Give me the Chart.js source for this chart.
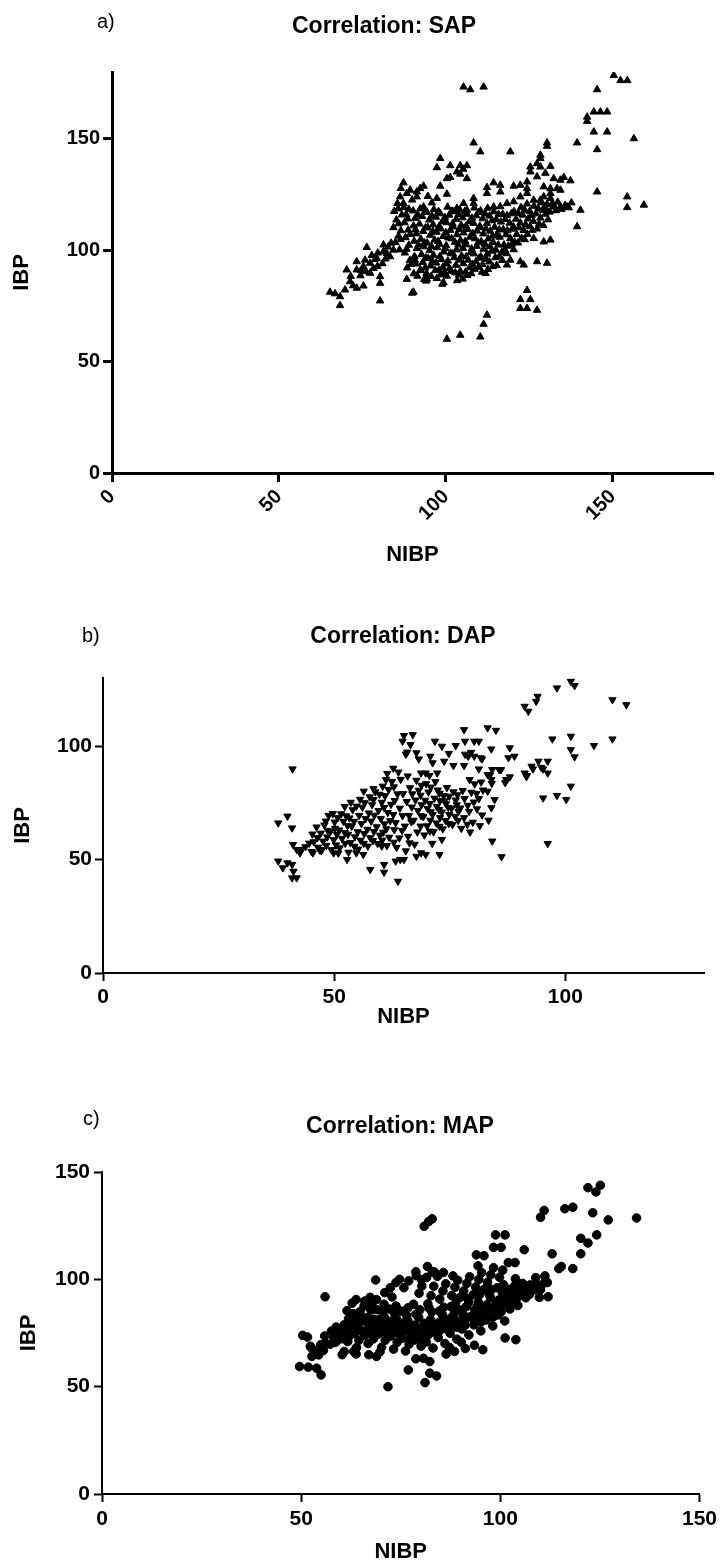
<!DOCTYPE html>
<html>
<head>
<meta charset="utf-8">
<script src="https://cdn.jsdelivr.net/npm/chart.js@4.4.1/dist/chart.umd.min.js"></script>
<style>
  body { margin: 0; background: #fff; }
  #page { position: relative; width: 722px; height: 1568px; overflow: hidden; font-family: 'Liberation Sans', Arial, sans-serif; color: #000; }
  canvas { position: absolute; left: 0; }
  .panel { position: absolute; font-size: 20px; line-height: 24px; }
  .title { position: absolute; font-size: 23px; font-weight: bold; line-height: 28px; transform: translateX(-50%); white-space: nowrap; }
</style>
</head>
<body>
<div id="page">
  <canvas id="sapChart" width="722" height="580" style="top:0px"></canvas>
  <canvas id="dapChart" width="722" height="460" style="top:580px"></canvas>
  <canvas id="mapChart" width="722" height="528" style="top:1040px"></canvas>

  <div class="panel" style="left:97px;top:9px">a)</div>
  <div class="title" style="left:384px;top:11px">Correlation: SAP</div>
  <div class="panel" style="left:82px;top:623px">b)</div>
  <div class="title" style="left:403px;top:621px">Correlation: DAP</div>
  <div class="panel" style="left:83px;top:1106px">c)</div>
  <div class="title" style="left:400px;top:1111px">Correlation: MAP</div>
</div>
<script>
// tick labels for each panel
const sapXTicks = [0, 50, 100, 150];
const sapYTicks = [0, 50, 100, 150];
const dapXTicks = [0, 50, 100];
const dapYTicks = [0, 50, 100];
const mapXTicks = [0, 50, 100, 150];
const mapYTicks = [0, 50, 100, 150];

// [NIBP, IBP] pairs
const sapPoints = [
  [105.3,173.3],[107.3,172.1],[111.3,173.3],
  [150.3,178.5],[152.3,176.2],[154.3,176.2],[145.3,172.1],
  [142.3,159.8],[142.3,157.9],[144.3,162.1],[146.3,162.1],[148.3,162.1],
  [144.3,153.1],[148.3,153.1],[145.3,145.2],[156.3,150.1],[139.3,148.2],
  [108.3,148.2],[110.3,144.2],[119.3,144.2],
  [130.3,148.2],[130.3,146.7],[128.3,142.7],[128.3,141.2],[127.3,138.9],[128.3,137.4],[125.3,137.4],[125.3,135.2],[131.3,137.7],[127.3,133.0],[129.8,134.6],
  [98.3,141.2],[97.3,137.1],[101.3,138.0],[104.3,138.0],[106.3,138.0],[103.3,135.2],[104.3,134.2],[106.3,132.2],[100.3,132.2],[101.3,132.7],[105.2,136.4],
  [132.3,132.2],[134.3,131.5],[135.3,132.7],[137.3,131.2],
  [145.3,126.2],[154.3,124.0],[154.3,119.2],[159.3,120.3],
  [140.3,118.0],[139.3,110.6],
  [133.3,127.7],[134.3,127.0],[131.3,127.7],[129.3,128.5],[131.3,125.5],[129.3,124.0],[131.3,123.3],[132.3,119.5],[134.3,119.5],[136.3,119.5],[130.3,117.3],
  [87.3,130.3],[89.3,127.0],[91.3,126.2],[92.3,127.7],[93.3,128.8],[91.3,124.0],[88.3,125.5],[86.3,124.0],[87.3,121.0],[93.3,119.5],[86.5,127.8],[89.9,122.6],[94.6,124.2],[95.8,121.3],
  [98.3,128.8],[100.3,125.2],[97.3,123.3],
  [112.3,128.2],[114.3,130.3],[116.3,129.2],[116.3,126.2],[120.3,128.8],[122.3,129.2],[124.3,130.7],[124.3,127.7],[112.3,125.5],
  [105.3,121.0],[108.3,123.3],[108.3,121.0],[106.3,118.0],[103.3,118.8],
  [114.3,119.5],[118.3,121.0],[120.3,121.8],[122.3,124.0],[124.3,125.5],[126.3,122.5],[128.3,122.5],
  [126.3,105.3],[129.3,103.8],[131.3,104.6],[127.3,94.9],[130.3,94.2],[119.3,95.6],[118.3,93.4],[122.3,94.9],[123.3,93.4],
  [124.3,82.0],[122.3,77.9],[125.3,77.9],[122.3,73.9],[124.3,73.9],[127.3,73.1],
  [112.3,70.9],[111.3,66.8],[110.3,61.1],[104.3,61.9],[100.3,60.1],
  [88.3,87.0],[90.3,81.2],[92.3,90.9],[94.3,87.1],[99.3,85.5],[89.9,80.8],[94.1,86.2],[98.9,84.8],[80.3,77.3],
  [65.3,81.2],[66.8,80.5],[68.3,79.2],[68.3,75.2],[69.8,82.2],[71.3,85.9],[70.3,91.2],[72.2,84.1],[73.3,83.0],[73.3,91.2],
  [73.3,94.9],[74.4,88.6],[75.3,84.0],[75.3,92.7],[76.3,101.3],[76.1,90.4],[77.3,94.2],[77.3,89.7],[78.3,91.9],[78.8,95.9],
  [79.3,96.4],[79.6,98.8],[80.3,88.2],[80.3,85.2],[81.3,102.4],[81.3,99.4],[81.9,96.1],[82.3,98.6],[82.7,101.5],[83.3,97.1],
  [83.6,103.2],[84.3,100.1],[81.0,94.0],[79.5,92.8],[77.8,97.7],[75.8,95.6],[71.5,88.3],[74.6,91.0],
  [84.5,117.5],[85.2,113.6],[84.3,110.2],[85.8,106.4],[84.9,103.5],[86.1,100.2],[86.5,108.8],[86.8,115.9],[85.5,121.0],
  [87.4,119.2],[88.1,116.0],[87.6,112.4],[88.7,109.1],[87.9,105.7],[88.9,102.3],[87.7,98.8],[89.2,95.5],[88.4,92.1],
  [90.2,117.7],[90.8,114.3],[90.3,111.0],[91.1,107.4],[90.5,104.1],[91.3,100.8],[90.6,97.2],[91.0,93.9],[90.4,89.5],
  [92.3,118.6],[92.9,115.2],[92.1,111.8],[93.2,108.5],[92.5,105.0],[93.4,101.6],[92.7,98.1],[93.1,94.6],[92.4,91.3],[93.5,86.9],
  [94.3,117.1],[95.0,113.6],[94.6,110.2],[95.3,106.8],[94.4,103.3],[95.1,99.9],[94.7,96.4],[95.4,93.0],[94.2,89.6],
  [96.4,118.3],[97.0,114.9],[96.2,111.5],[97.2,108.1],[96.6,104.6],[97.4,101.2],[96.3,97.8],[97.1,94.3],[96.8,90.9],[97.3,87.4],
  [98.3,116.4],[99.0,113.0],[98.5,109.6],[99.2,106.2],[98.1,102.7],[99.4,99.3],[98.7,95.8],[99.1,92.4],[98.4,89.0],
  [100.5,119.4],[101.0,115.8],[100.2,112.4],[101.3,109.0],[100.7,105.6],[100.1,102.1],[101.4,98.7],[100.6,95.2],[101.1,91.8],[100.3,88.4],
  [102.4,117.3],[103.1,113.9],[102.2,110.5],[103.3,107.0],[102.7,103.6],[103.2,100.2],[102.5,96.7],[103.0,93.3],[102.8,89.9],[103.4,86.4],
  [104.2,118.1],[105.0,114.6],[104.6,111.2],[105.3,107.8],[104.4,104.4],[105.1,100.9],[104.7,97.5],[105.2,94.0],[104.3,90.6],[105.0,87.1],
  [106.3,116.2],[107.0,112.8],[106.5,109.4],[107.2,105.9],[106.1,102.5],[107.4,99.0],[106.7,95.6],[107.1,92.2],[106.4,88.7],
  [108.5,119.0],[109.1,115.5],[108.3,112.1],[109.3,108.7],[108.7,105.2],[109.2,101.8],[108.4,98.4],[109.0,94.9],[108.6,91.5],
  [110.4,117.7],[111.0,114.2],[110.2,110.8],[111.2,107.4],[110.6,103.9],[111.3,100.5],[110.5,97.1],[111.0,93.6],[110.8,90.2],
  [112.5,118.9],[113.1,115.4],[112.3,112.0],[113.3,108.6],[112.7,105.1],[113.2,101.7],[112.4,98.3],[113.0,94.8],[112.6,91.4],
  [114.4,117.3],[115.1,113.8],[114.6,110.4],[115.3,107.0],[114.2,103.5],[115.0,100.1],[114.8,96.7],[115.2,93.2],
  [116.3,119.6],[117.0,116.2],[116.5,112.7],[117.2,109.3],[116.1,105.9],[117.4,102.4],[116.7,99.0],[116.9,95.5],
  [118.3,115.6],[119.1,112.2],[118.4,108.8],[119.3,105.3],[118.7,101.9],[118.2,98.5],
  [120.4,117.4],[121.0,114.0],[120.2,110.6],[121.2,107.1],[120.6,103.7],[120.3,100.3],
  [122.5,119.2],[123.0,115.8],[122.3,112.3],[123.3,108.9],[122.7,105.4],
  [124.3,120.8],[125.1,117.5],[124.6,114.1],[125.2,110.7],[124.4,107.2],
  [126.4,119.8],[127.0,116.4],[126.2,113.0],[127.3,109.6],
  [128.5,121.3],[129.1,117.9],[128.3,114.5],[129.2,111.1],
  [130.3,120.6],[131.1,117.2],[130.6,113.7],
  [132.4,119.9],[133.5,121.6],[134.6,118.4],[135.7,120.2],[136.8,119.1],[137.6,121.3],
  [85.9,111.9],[86.4,104.9],[85.7,118.6],[88.6,114.1],[89.3,107.2],[88.2,100.5],[89.6,93.7],[88.9,118.4],
  [91.6,115.9],[90.9,109.2],[91.8,102.4],[90.7,95.6],[91.5,88.4],
  [93.7,117.0],[93.9,110.1],[93.6,103.3],[94.0,96.5],[93.8,92.1],
  [95.8,115.4],[96.1,108.5],[95.7,101.7],[96.0,95.0],[95.6,88.3],
  [97.8,117.4],[98.0,110.7],[97.7,104.0],[98.2,97.2],[97.9,91.0],
  [99.7,114.7],[100.0,107.9],[99.8,100.8],[100.1,93.9],[99.6,90.1],
  [101.8,117.6],[102.0,111.9],[101.7,105.2],[102.1,98.4],[101.6,90.6],
  [103.8,116.0],[104.0,109.3],[103.7,102.4],[104.1,95.6],[103.9,88.9],
  [105.7,117.5],[106.0,110.8],[105.8,104.0],[106.1,97.1],[105.9,90.2],
  [107.8,114.4],[108.0,107.6],[107.7,100.6],[108.0,93.7],[107.6,89.5],
  [109.8,117.0],[110.0,110.2],[109.7,103.4],[110.0,96.5],[109.8,92.4],
  [111.8,116.3],[112.0,109.6],[111.7,102.8],[112.0,96.0],[111.9,89.6],
  [113.8,113.3],[114.0,106.4],[113.7,99.6],[114.0,92.7],
  [115.8,116.1],[116.0,109.2],[115.7,102.4],[116.0,97.1],
  [117.8,113.9],[118.0,107.0],[117.6,100.3],[119.6,116.4],[119.9,109.5],[119.7,102.7],
  [121.7,116.6],[121.9,110.1],[121.6,103.3],[123.6,118.0],[123.9,111.4],[123.6,104.8],
  [125.7,115.7],[125.9,109.0],[127.7,118.6],[127.9,111.8],[129.8,116.2],[129.6,119.6],[131.8,121.0],[132.9,117.8]
];

const dapPoints = [
  [101.2,128.5],[102.0,126.6],[98.2,125.6],[94.0,121.9],[93.7,119.7],[91.2,117.5],[92.0,115.3],[110.2,120.4],[113.2,118.2],
  [110.2,103.1],[106.2,100.2],[101.2,104.3],[101.2,98.4],[102.0,95.2],[97.2,103.1],[94.2,93.3],[92.7,91.1],[91.2,88.1],[91.7,87.0],
  [95.2,89.9],[96.2,93.3],[96.2,88.1],[101.2,82.3],[95.2,77.1],[98.2,78.2],[100.2,76.4],[96.2,57.0],[86.2,51.2],[84.2,58.1],
  [88.0,99.2],[89.0,95.5],[87.7,94.8],[87.2,85.2],[87.0,83.8],[88.0,86.4],
  [78.1,107.2],[83.2,108.0],[85.0,106.9],[80.3,102.1],[81.3,102.1],[78.3,102.1],[84.0,98.7],[79.0,95.5],[80.3,95.5],[81.7,94.8],
  [81.3,89.9],[83.2,87.4],[84.2,89.6],[85.7,89.6],[84.0,85.2],[84.7,76.4],
  [65.1,104.6],[64.8,102.1],[67.0,105.0],[71.8,102.1],[76.3,100.2],[66.5,100.6],[70.8,95.5],[67.8,97.0],[68.3,94.3],[65.8,97.3],
  [73.3,99.9],[74.8,96.7],[75.8,91.4],[73.8,93.3],[71.3,92.6],[68.8,88.1],[69.8,88.1],[72.3,88.1],[78.1,91.4],[79.3,85.2],
  [65.5,96.4],[78.3,96.4],[79.6,97.2],[82.0,94.3],[86.1,89.6],[91.6,86.5],[93.0,89.9],[94.8,90.6],
  [45.4,52.9],[47.4,54.4],[49.9,52.9],[52.8,50.0],[54.8,52.9],[56.3,52.2],[57.8,45.6],[60.8,44.4],[60.8,47.8],[63.3,49.3],
  [63.8,40.4],[64.3,50.0],[65.1,50.0],[67.8,51.4],[68.8,52.9],[69.8,52.2],[72.8,52.2],[73.3,58.8],[66.3,57.3],[60.3,55.9],
  [37.9,66.1],[39.9,69.1],[40.9,63.9],[41.0,89.9],[37.9,49.3],[38.9,46.3],[39.9,48.5],[40.9,47.8],[41.2,44.8],[41.9,41.9],
  [40.9,41.9],[41.1,56.6],[41.9,54.4],[42.9,54.4],[42.6,52.9],[43.8,55.6],[44.6,57.2],
  [45.1,53.5],[45.6,57.8],[45.3,61.2],[46.2,64.3],[46.5,55.4],
  [47.2,53.9],[47.6,58.1],[47.1,61.6],[47.9,65.2],[48.3,56.2],[48.6,62.8],[48.8,69.4],
  [49.4,54.3],[49.9,58.7],[49.2,62.3],[50.1,66.5],[49.7,70.2],[50.6,61.0],
  [51.2,55.1],[51.7,59.3],[51.1,63.0],[52.0,66.8],[51.5,70.1],[52.3,73.3],[50.9,52.8],
  [53.1,53.2],[53.5,57.4],[53.0,61.1],[53.8,64.7],[53.3,68.3],[54.0,71.9],[53.6,75.2],
  [55.2,54.6],[55.7,58.5],[55.1,62.2],[55.9,65.8],[55.4,69.4],[56.1,73.0],[55.6,76.5],[56.4,80.1],
  [57.3,55.9],[57.8,59.6],[57.2,63.3],[58.0,66.9],[57.5,70.5],[58.2,74.1],[57.7,77.6],[58.5,81.2],
  [59.4,57.0],[59.9,60.7],[59.2,64.4],[60.1,68.0],[59.6,71.6],[60.3,75.2],[59.8,78.7],[60.5,82.3],
  [61.4,56.1],[61.9,59.8],[61.3,63.5],[62.1,67.1],[61.6,70.7],[62.3,74.3],[61.8,80.8],[62.5,84.4],[61.5,87.9],[62.8,90.2],
  [63.5,55.3],[64.1,59.5],[63.3,66.2],[64.2,72.6],[63.7,78.9],[64.4,85.3],[63.9,88.5],
  [65.5,53.8],[66.0,60.2],[65.3,64.7],[66.2,69.4],[65.7,75.5],[66.4,81.6],[65.9,86.8],
  [67.4,56.7],[68.0,62.1],[67.2,67.3],[68.1,71.6],[67.6,76.2],[68.3,80.5],[67.8,84.9],
  [69.5,60.8],[70.1,64.8],[69.3,68.9],[70.2,72.5],[69.7,76.1],[70.4,79.7],[69.9,83.4],[70.6,87.0],
  [71.5,62.2],[72.1,66.1],[71.3,69.8],[72.2,73.4],[71.7,77.0],[72.4,80.6],[71.9,84.3],[71.2,57.1],
  [73.5,63.5],[74.1,67.2],[73.3,70.9],[74.2,74.5],[73.7,78.1],[74.4,81.7],[73.9,75.9],
  [75.6,65.4],[76.2,69.0],[75.4,72.6],[76.3,76.2],[75.8,79.8],[76.5,74.1],
  [77.5,63.7],[78.1,68.4],[77.3,72.7],[78.2,76.8],[77.8,80.4],
  [79.4,62.1],[80.0,66.4],[79.2,71.2],[80.2,75.3],[79.7,79.6],[80.4,83.3],
  [81.5,64.9],[82.0,69.6],[81.3,76.8],[82.2,80.6],[81.8,84.1],
  [83.4,67.3],[84.0,72.8],[83.2,80.1],[84.1,83.5],[83.7,87.2],
  [46.4,59.6],[46.9,54.1],[48.5,59.9],[48.2,66.9],[50.4,56.4],[50.2,63.7],[50.8,68.4],[52.4,57.1],[52.3,61.8],[52.6,69.2],[52.9,64.9],
  [54.4,55.8],[54.5,60.0],[54.3,66.8],[54.8,73.5],[56.4,57.1],[56.5,61.4],[56.8,68.0],[56.6,75.0],[58.4,58.3],[58.6,62.3],[58.7,69.5],[58.5,76.4],[58.9,79.8],
  [60.4,58.5],[60.6,62.0],[60.9,65.7],[60.8,72.9],[61.0,78.1],[61.2,85.2],[62.9,57.6],[63.0,63.1],[62.8,69.8],[63.1,76.0],[62.9,82.0],
  [64.7,62.8],[64.8,69.3],[64.9,79.0],[66.7,66.6],[66.8,73.1],[66.9,78.9],[68.7,64.7],[68.8,69.3],[68.9,74.1],[68.7,78.3],[68.9,82.7],
  [70.7,62.5],[70.8,67.3],[70.9,71.0],[70.7,74.7],[70.9,81.9],[72.8,64.6],[72.9,68.5],[72.7,72.0],[72.9,75.9],[72.8,79.2],
  [74.8,65.8],[74.9,69.8],[74.7,72.9],[74.9,77.9],[76.8,67.2],[76.9,71.2],[76.7,78.5],[78.8,65.5],[78.9,73.9],[80.9,72.3],[80.8,79.1]
];

const mapPoints = [
  [122.0,142.7],[125.1,143.8],[124.0,140.7],[118.2,133.6],[116.2,132.9],[111.0,132.1],[110.1,128.9],[123.2,131.0],[127.1,127.7],[134.2,128.6],
  [124.2,120.7],[122.0,116.9],[120.2,119.1],[120.2,111.9],[113.0,111.9],[114.7,105.0],[118.2,105.0],[115.3,106.0],[111.2,101.6],[111.8,98.5],
  [112.0,91.9],[108.9,100.8],[106.0,113.8],[107.2,96.9],[106.4,91.4],[106.0,95.3],[108.3,96.9],[104.3,94.6],[103.7,107.8],[102.0,107.8],
  [101.2,120.7],[98.8,120.7],[98.3,114.9],[100.2,114.9],[95.9,111.0],[94.0,111.4],[94.4,106.3],[101.2,72.7],[103.9,71.9],[95.6,67.2],
  [80.9,124.7],[82.0,126.9],[82.9,128.2],
  [56.0,91.9],[50.4,73.9],[51.6,73.1],[49.6,59.4],[51.8,59.1],[53.9,58.6],[55.0,55.5],[52.7,64.1],[52.3,68.8],
  [71.8,50.0],[76.9,57.8],[78.8,63.0],[81.1,51.9],[82.3,56.3],[84.0,55.0],[82.3,61.7],[68.9,64.1],[67.0,64.9],[63.8,65.2],[60.8,66.4],
  [60.3,64.9],[63.2,66.4],[88.5,66.4],[91.2,67.8],[93.5,69.3],[86.4,65.2],
  [63.8,90.6],[66.0,89.9],[68.9,90.6],[71.0,93.8],[72.4,96.1],[73.8,98.5],[74.7,100.0],[68.7,99.7],[78.8,103.5],[81.7,106.0],
  [80.3,96.9],[83.4,103.5],[85.7,103.2],[88.1,101.6],
  [52.5,68.2],[53.6,66.5],[54.4,64.8],[55.6,66.9],[56.1,70.2],[54.9,69.5],[55.9,73.6],
  [57.3,69.8],[58.2,73.1],[57.6,75.9],[59.0,71.4],[58.8,77.8],[59.6,74.8],
  [60.4,72.3],[61.1,75.6],[60.8,78.8],[61.9,81.6],[62.3,73.9],[61.5,85.4],[62.6,77.2],[62.8,88.9],
  [63.4,74.8],[64.0,78.2],[63.7,81.7],[64.8,84.9],[65.2,76.1],[64.5,71.6],[65.4,80.6],[65.8,87.6],[63.9,68.2],
  [66.4,75.2],[67.0,78.7],[66.6,82.2],[67.5,85.7],[68.1,72.2],[67.8,88.9],[68.4,76.8],[68.2,81.4],[66.8,70.1],[67.3,91.6],
  [69.3,74.4],[70.0,77.9],[69.6,81.4],[70.5,84.9],[71.1,71.6],[70.8,88.4],[71.4,79.6],[70.2,68.4],[71.6,75.2],[69.8,66.3],
  [72.4,73.5],[73.0,77.0],[72.6,80.5],[73.5,84.0],[74.1,70.7],[73.8,87.6],[74.4,79.1],[73.2,67.5],[74.6,74.9],[72.8,91.8],
  [75.4,72.6],[76.0,76.1],[75.6,79.6],[76.5,83.1],[77.1,69.8],[76.8,86.7],[77.4,78.2],[76.2,66.6],[77.6,74.0],[75.8,96.1],[77.0,99.3],
  [78.4,71.7],[79.0,75.2],[78.6,78.7],[79.5,82.2],[80.1,68.9],[79.8,85.8],[80.4,77.3],[78.2,88.4],[79.6,93.5],[80.2,99.8],[78.9,101.7],[80.7,63.2],
  [81.4,70.8],[82.0,74.3],[81.6,77.8],[82.5,81.3],[83.1,68.0],[82.8,84.9],[83.4,76.4],[81.8,88.6],[82.6,92.4],[83.3,96.8],[81.5,100.9],[82.9,103.4],
  [84.4,72.9],[85.0,76.4],[84.6,79.9],[85.5,83.4],[86.1,70.1],[85.8,87.0],[86.4,78.5],[84.8,90.8],[85.6,94.6],[86.3,97.9],[84.2,101.4],
  [87.4,74.9],[88.0,78.4],[87.6,81.9],[88.5,85.4],[89.1,72.1],[88.8,89.0],[89.4,80.5],[87.8,92.4],[88.6,96.3],[89.3,99.6],[87.2,68.3],
  [90.4,76.9],[91.0,80.4],[90.6,83.9],[91.5,87.4],[92.1,74.1],[91.8,91.0],[92.4,82.5],[90.8,94.6],[91.6,98.1],[92.3,101.2],[90.2,70.7],
  [93.4,78.8],[94.0,82.3],[93.6,85.8],[94.5,89.3],[95.1,76.0],[94.8,92.9],[95.4,84.4],[93.8,96.4],[94.6,99.9],[95.3,103.1],
  [96.4,81.1],[97.0,84.6],[96.6,88.1],[97.5,91.6],[98.1,78.3],[97.8,95.2],[98.4,86.7],[96.8,98.6],[97.6,102.1],[98.3,105.4],
  [99.4,83.4],[100.0,86.9],[99.6,90.4],[100.5,93.9],[101.1,80.6],[100.8,97.5],[101.4,89.0],[99.8,101.0],[100.6,104.3],
  [102.4,86.2],[103.0,89.7],[102.6,93.2],[103.5,96.7],[104.1,90.9],[103.8,100.3],[104.8,94.4],[105.6,98.1],[105.2,92.7],
  [106.6,93.8],[107.5,97.4],[108.4,95.1],[109.2,97.6],[110.1,95.2],[109.8,91.6],[111.0,98.3],
  [58.5,70.6],[60.0,76.5],[61.7,71.0],[62.1,79.5],[63.1,84.0],[64.6,76.6],[65.0,82.7],[65.9,73.9],[66.9,80.1],[67.9,74.5],
  [68.8,79.1],[69.0,85.9],[70.4,75.7],[70.9,82.3],[71.8,77.4],[72.2,86.1],[73.7,75.1],[74.0,81.4],[74.9,77.2],[75.1,85.2],
  [76.8,80.7],[77.2,72.0],[78.1,76.9],[78.8,83.7],[79.9,72.6],[80.9,79.5],[81.2,73.9],[82.1,86.7],[83.6,78.6],[84.1,74.7],
  [84.7,85.2],[85.9,81.0],[86.8,76.5],[87.6,87.3],[88.2,83.1],[89.1,77.7],[89.9,91.6],[90.1,85.7],[91.2,78.7],[92.1,89.4],
  [93.1,82.1],[93.2,92.8],[94.2,87.2],[95.2,80.2],[95.9,95.3],[96.1,86.0],[97.2,93.2],[98.1,82.4],[98.9,88.8],[99.2,96.1],
  [100.2,84.9],[101.2,91.9],[101.9,95.4],[102.9,91.8],[104.0,98.2],[104.4,87.8],[106.2,96.5],[107.3,93.0]
];

Chart.defaults.font.family = "'Liberation Sans', Arial, sans-serif";
Chart.defaults.color = '#000';

function makeChart(id, points, cfg) {
  const tickFont = { size: cfg.tickSize, weight: 'bold' };
  const titleFont = { size: 22, weight: 'bold' };
  return new Chart(document.getElementById(id), {
    type: 'scatter',
    data: {
      datasets: [{
        data: points.map(p => ({ x: p[0], y: p[1] })),
        pointStyle: cfg.style,
        pointRotation: cfg.rotation,
        pointRadius: cfg.radius,
        pointBackgroundColor: '#000',
        pointBorderColor: '#000',
        pointBorderWidth: 1
      }]
    },
    options: {
      responsive: false,
      animation: false,
      layout: { padding: cfg.padding },
      plugins: { legend: { display: false }, tooltip: { enabled: false } },
      scales: {
        x: {
          type: 'linear', min: 0, max: cfg.xMax,
          afterBuildTicks: s => { s.ticks = cfg.xTicks.map(v => ({ value: v })); },
          afterFit: s => { s.height = cfg.xHeight; },
          ticks: { font: tickFont, color: '#000', autoSkip: false, padding: cfg.xPad,
                   minRotation: cfg.xRot, maxRotation: cfg.xRot },
          grid: { display: true, drawOnChartArea: false, drawTicks: true, tickLength: cfg.tickLen,
                  tickWidth: cfg.axisWidth, tickColor: '#000' },
          border: { display: true, color: '#000', width: cfg.axisWidth },
          title: { display: true, text: 'NIBP', font: titleFont, color: '#000', padding: { top: 0, bottom: cfg.xTitlePad } }
        },
        y: {
          type: 'linear', min: 0, max: cfg.yMax,
          afterBuildTicks: s => { s.ticks = cfg.yTicks.map(v => ({ value: v })); },
          afterFit: s => { s.width = cfg.yWidth; },
          ticks: { font: tickFont, color: '#000', autoSkip: false, padding: cfg.yPad },
          grid: { display: true, drawOnChartArea: false, drawTicks: true, tickLength: cfg.tickLen,
                  tickWidth: cfg.axisWidth, tickColor: '#000' },
          border: { display: true, color: '#000', width: cfg.axisWidth },
          title: { display: true, text: 'IBP', font: titleFont, color: '#000', padding: { top: cfg.yTitlePad, bottom: 0 } }
        }
      }
    }
  });
}

// a) systolic
makeChart('sapChart', sapPoints, {
  style: 'triangle', rotation: 0, radius: 4.3,
  xMax: 180, yMax: 180, xTicks: sapXTicks, yTicks: sapYTicks,
  padding: { left: 0, top: 72, right: 9, bottom: 7 },
  xHeight: 100, yWidth: 112, tickLen: 9, axisWidth: 3, tickSize: 20,
  xPad: 3, yPad: 3, xRot: 45, xTitlePad: 5, yTitlePad: 9
});

// b) diastolic
makeChart('dapChart', dapPoints, {
  style: 'triangle', rotation: 180, radius: 4.2,
  xMax: 130, yMax: 130, xTicks: dapXTicks, yTicks: dapYTicks,
  padding: { left: 0, top: 98, right: 18, bottom: 7 },
  xHeight: 60, yWidth: 103, tickLen: 8, axisWidth: 2, tickSize: 21,
  xPad: 4, yPad: 3, xRot: 0, xTitlePad: 3, yTitlePad: 10
});

// c) mean
makeChart('mapChart', mapPoints, {
  style: 'circle', rotation: 0, radius: 4.3,
  xMax: 150, yMax: 150, xTicks: mapXTicks, yTicks: mapYTicks,
  padding: { left: 0, top: 132, right: 21, bottom: 0 },
  xHeight: 74, yWidth: 102, tickLen: 8, axisWidth: 2, tickSize: 21,
  xPad: 5, yPad: 4, xRot: 0, xTitlePad: 3, yTitlePad: 16
});
</script>
</body>
</html>
